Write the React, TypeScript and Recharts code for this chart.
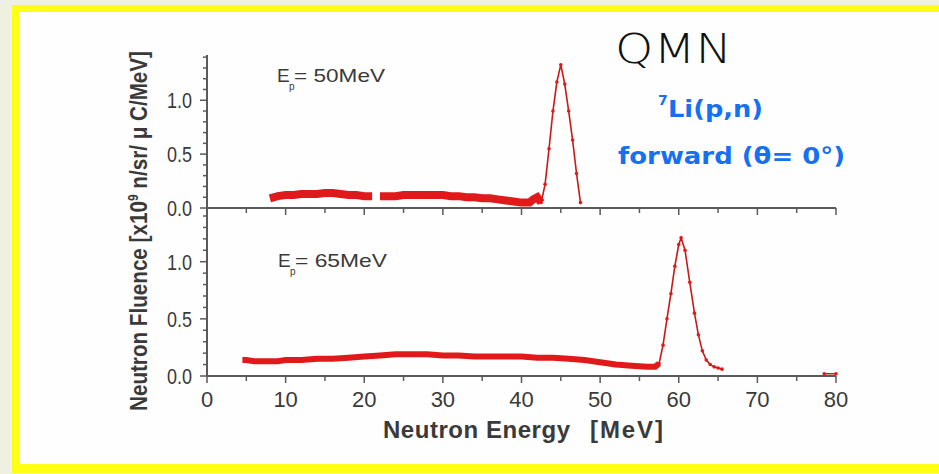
import React from "react";
import { LineChart, Line, XAxis, YAxis } from "recharts";

// E_p = 50 MeV spectrum (top panel)
const energy50 = [
  8, 9, 10, 11, 12, 13, 14, 15, 16, 17, 18, 19, 20, 21, 21.5, 22, 23, 24, 25,
  26, 27, 28, 29, 30, 31, 32, 33, 34, 35, 36, 37, 38, 39, 40, 41, 41.5, 42,
  42.5, 43, 43.5, 44, 44.5, 45, 45.5, 46, 46.5, 47, 47.5,
];
const fluence50 = [
  0.09, 0.11, 0.12, 0.12, 0.13, 0.13, 0.13, 0.14, 0.14, 0.13, 0.12, 0.12, 0.11,
  0.11, null, 0.11, 0.11, 0.11, 0.12, 0.12, 0.12, 0.12, 0.12, 0.12, 0.11, 0.11,
  0.1, 0.1, 0.09, 0.09, 0.08, 0.07, 0.06, 0.05, 0.05, 0.08, 0.1, 0.05, 0.22,
  0.55, 0.9, 1.17, 1.33, 1.15, 0.9, 0.63, 0.32, 0.05,
];
const peakStart50 = 42.5;

// E_p = 65 MeV spectrum (bottom panel)
const energy65 = [
  4.5, 5, 6, 7, 8, 9, 10, 12, 14, 16, 18, 20, 22, 24, 26, 28, 30, 32, 34, 36,
  38, 40, 42, 44, 46, 48, 50, 52, 54, 56, 57, 57.5, 58, 58.5, 59, 59.5, 60,
  60.3, 60.8, 61.4, 62, 62.5, 63, 63.5, 64, 64.5, 65, 65.5, 70, 78.5, 80,
];
const fluence65 = [
  0.14, 0.14, 0.13, 0.13, 0.13, 0.13, 0.14, 0.14, 0.15, 0.15, 0.16, 0.17, 0.18,
  0.19, 0.19, 0.19, 0.18, 0.18, 0.17, 0.17, 0.17, 0.17, 0.16, 0.16, 0.15, 0.14,
  0.12, 0.1, 0.09, 0.08, 0.08, 0.11, 0.27, 0.5, 0.72, 0.96, 1.15, 1.21, 1.1,
  0.82, 0.55, 0.36, 0.22, 0.14, 0.1, 0.08, 0.07, 0.06, null, 0.02, 0.02,
];
const peakStart65 = 57.5;

const xTicks = [0, 5, 10, 15, 20, 25, 30, 35, 40, 45, 50, 55, 60, 65, 70, 75, 80];
const yTicks = [0, 0.1, 0.2, 0.3, 0.4, 0.5, 0.6, 0.7, 0.8, 0.9, 1, 1.1, 1.2, 1.3, 1.4];

const RED = "#e01a1a";
const RED_DARK = "#c81818";
const AXIS = "#5a5a5a";
const LABEL = "#3a3a3a";
const BLUE = "#1570f2";

function buildRows(energy: number[], fluence: (number | null)[], split: number) {
  return energy.map((e, i) => ({
    e,
    flat: e <= split ? fluence[i] : null,
    peak: e >= split ? fluence[i] : null,
  }));
}

const rows50 = buildRows(energy50, fluence50, peakStart50);
const rows65 = buildRows(energy65, fluence65, peakStart65);

const YTick = ({ x, y, payload }: any) => {
  const v = payload.value;
  const major = Math.abs(v * 2 - Math.round(v * 2)) < 1e-6;
  return (
    <g>
      <line x1={x - (major ? 7 : 4)} x2={x} y1={y} y2={y} stroke={AXIS} strokeWidth={1.5} />
      {major && (
        <text
          x={x - 15}
          y={y + 8}
          textAnchor="end"
          fontFamily="'Liberation Sans', Arial, sans-serif"
          fontSize={22}
          fill={LABEL}
          textLength={25}
          lengthAdjust="spacingAndGlyphs"
        >
          {v.toFixed(1)}
        </text>
      )}
    </g>
  );
};

const makeXTick = (showLabels: boolean) => ({ x, y, payload }: any) => {
  const v = payload.value;
  const major = v % 10 === 0;
  return (
    <g>
      <line x1={x} x2={x} y1={y} y2={y + (major ? 7 : 5)} stroke={AXIS} strokeWidth={1.5} />
      {showLabels && major && (
        <text
          x={x}
          y={y + 31}
          textAnchor="middle"
          fontFamily="'Liberation Sans', Arial, sans-serif"
          fontSize={22}
          fill={LABEL}
        >
          {v}
        </text>
      )}
    </g>
  );
};

const TopXTick = makeXTick(false);
const BottomXTick = makeXTick(true);

function Panel({ rows, yMax, width, height, margin, xHeight, labels, flatWidth }: any) {
  return (
    <LineChart width={width} height={height} data={rows} margin={margin}>
      <XAxis
        dataKey="e"
        type="number"
        domain={[0, 80]}
        ticks={xTicks}
        interval={0}
        height={xHeight}
        tickSize={0}
        tickMargin={0}
        tickLine={false}
        axisLine={{ stroke: AXIS, strokeWidth: 2 }}
        tick={labels ? BottomXTick : TopXTick}
      />
      <YAxis
        type="number"
        domain={[0, yMax]}
        ticks={yTicks}
        interval={0}
        width={207}
        tickSize={0}
        tickMargin={0}
        tickLine={false}
        axisLine={{ stroke: AXIS, strokeWidth: 2 }}
        tick={YTick}
        allowDataOverflow
      />
      <Line
        type="linear"
        dataKey="flat"
        stroke={RED}
        strokeWidth={flatWidth}
        dot={false}
        connectNulls={false}
        isAnimationActive={false}
      />
      <Line
        type="linear"
        dataKey="peak"
        stroke={RED_DARK}
        strokeWidth={1.6}
        dot={{ r: 1.8, fill: RED, stroke: "none" }}
        connectNulls={false}
        isAnimationActive={false}
      />
    </LineChart>
  );
}

export default function App() {
  return (
    <div
      style={{
        position: "absolute",
        left: 0,
        top: 0,
        width: 939,
        height: 474,
        overflow: "hidden",
        background: "#eef0e2",
      }}
    >
      <div
        style={{
          position: "absolute",
          left: 12,
          top: 5,
          width: 960,
          height: 468,
          boxSizing: "border-box",
          borderStyle: "solid",
          borderColor: "#ffff14",
          borderWidth: "7px 7px 9px 7px",
          background: "#fefefe",
        }}
      />
      <div style={{ position: "absolute", left: 0, top: 0 }}>
        <Panel
          rows={rows50}
          yMax={1.42}
          width={939}
          height={232}
          margin={{ top: 55, right: 103, bottom: 0, left: 0 }}
          xHeight={24}
          labels={false}
          flatWidth={8}
        />
      </div>
      <div style={{ position: "absolute", left: 0, top: 200 }}>
        <Panel
          rows={rows65}
          yMax={1.47}
          width={939}
          height={240}
          margin={{ top: 8, right: 103, bottom: 0, left: 0 }}
          xHeight={64}
          labels={true}
          flatWidth={6}
        />
      </div>
      <svg
        width={939}
        height={474}
        style={{ position: "absolute", left: 0, top: 0, pointerEvents: "none" }}
      >
        <g fontFamily="'Liberation Sans', Arial, sans-serif" fill={LABEL}>
          <text x={277} y={82} fontSize={19}>E</text>
          <text x={289} y={90} fontSize={10}>p</text>
          <text x={294} y={82} fontSize={19} textLength={91} lengthAdjust="spacingAndGlyphs">
            = 50MeV
          </text>
          <text x={278} y={267} fontSize={19}>E</text>
          <text x={290} y={275} fontSize={10}>p</text>
          <text x={295} y={267} fontSize={19} textLength={92} lengthAdjust="spacingAndGlyphs">
            = 65MeV
          </text>
          <text x={383} y={438} fontSize={24} fontWeight="bold" textLength={187}>
            Neutron Energy
          </text>
          <text x={590} y={438} fontSize={24} fontWeight="bold" textLength={73}>
            [MeV]
          </text>
        </g>
        <text
          transform="translate(147,231) rotate(-90)"
          textAnchor="middle"
          fontFamily="'Liberation Sans', Arial, sans-serif"
          fontWeight="bold"
          fontSize={24}
          fill={LABEL}
          textLength={360}
          lengthAdjust="spacingAndGlyphs"
        >
          Neutron Fluence [x10<tspan dy={-9} fontSize={14}>9</tspan>
          <tspan dy={9}> n/sr/ μ C/MeV]</tspan>
        </text>
        <text
          x={615}
          y={63}
          fontFamily="'DejaVu Sans', sans-serif"
          fontWeight={200}
          fontSize={41}
          fill="#111"
          textLength={117}
          lengthAdjust="spacingAndGlyphs"
        >
          QMN
        </text>
        <g fontFamily="'DejaVu Sans', sans-serif" fontWeight="bold" fill={BLUE}>
          <text x={658} y={105} fontSize={14}>7</text>
          <text x={668} y={117} fontSize={23} textLength={95} lengthAdjust="spacingAndGlyphs">
            Li(p,n)
          </text>
          <text x={618} y={164} fontSize={23} textLength={227} lengthAdjust="spacingAndGlyphs">
            forward (θ= 0°)
          </text>
        </g>
      </svg>
    </div>
  );
}
